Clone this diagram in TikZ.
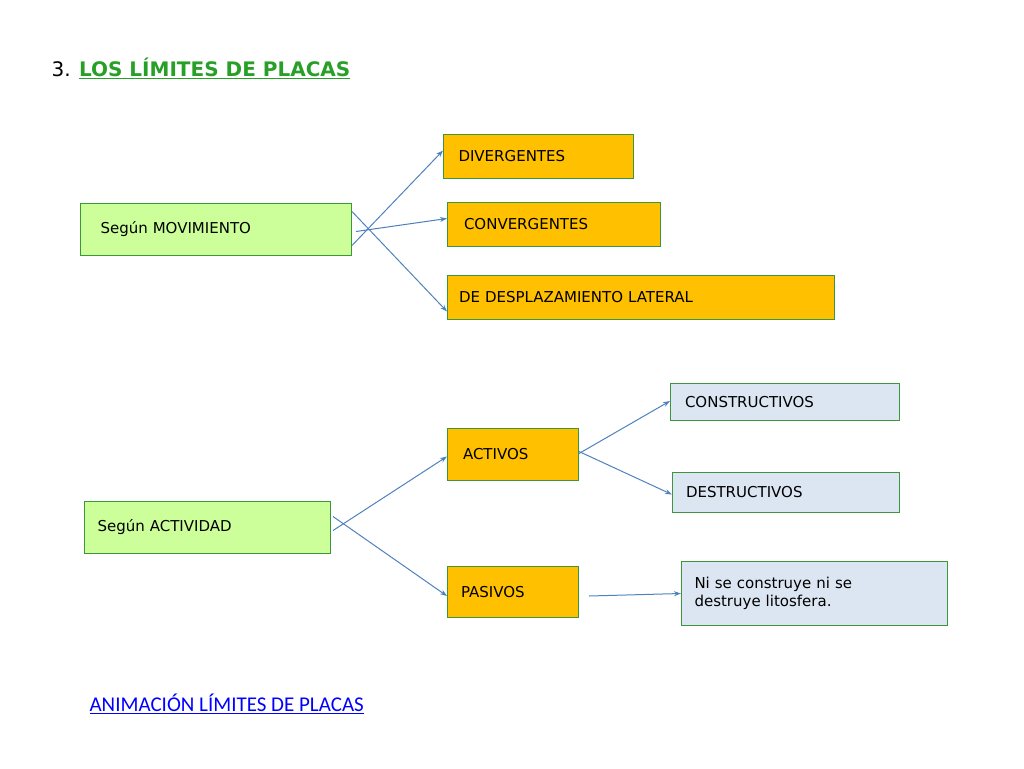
\documentclass[tikz,border=0pt]{standalone}
\usepackage{fontspec}
\setmainfont{DejaVu Sans}
\newfontfamily\linkfont{Carlito}
\usetikzlibrary{positioning,arrows.meta}
\definecolor{cborder}{RGB}{60,150,60}
\definecolor{cgreen}{RGB}{204,255,153}
\definecolor{corange}{RGB}{255,192,0}
\definecolor{cblue}{RGB}{220,230,242}
\definecolor{carrow}{RGB}{79,129,189}
\definecolor{ctitle}{RGB}{40,160,40}
\tikzset{
  box/.style={draw=cborder,line width=1pt,anchor=north west,inner sep=0pt,font=\fontsize{15}{18}\selectfont,align=left},
  crit/.style={box,fill=cgreen},
  kind/.style={box,fill=corange},
  note/.style={box,fill=cblue},
  link/.style={-{Stealth[length=7pt,width=5pt]},draw=carrow,line width=1pt}
}
\begin{document}
\begin{tikzpicture}[x=1pt,y=-1pt]
\useasboundingbox (0,0) rectangle (1024,768);
% title
\node[anchor=west,font=\fontsize{20}{24}\selectfont] (title) at (48,68)
  {3. \textcolor{ctitle}{\bfseries\underline{LOS LÍMITES DE PLACAS}}};
% first group
\node[crit,minimum width=271pt,minimum height=52pt,text width=255pt] (mov) at (80,203) {\hspace*{12pt}Según MOVIMIENTO};
\node[kind,minimum width=190pt,minimum height=44pt,text width=180pt] (div) at (443,134) {\hspace*{10pt}DIVERGENTES};
\node[kind,minimum width=213pt,minimum height=44pt,text width=200pt] (con) at (447,202) {\hspace*{10pt}CONVERGENTES};
\node[kind,minimum width=387pt,minimum height=44pt,text width=380pt] (lat) at (447,275) {\hspace*{8pt}DE DESPLAZAMIENTO LATERAL};
% second group
\node[crit,minimum width=246pt,minimum height=52pt,text width=240pt] (act) at (84,501) {\hspace*{10pt}Según ACTIVIDAD};
\node[kind,minimum width=131pt,minimum height=52pt,text width=120pt] (activos) at (447,428) {\hspace*{10pt}ACTIVOS};
\node[kind,minimum width=131pt,minimum height=51pt,text width=120pt] (pasivos) at (447,566) {\hspace*{8pt}PASIVOS};
\node[note,minimum width=229pt,minimum height=37pt,text width=220pt] (cons) at (670,383) {\hspace*{10pt}CONSTRUCTIVOS};
\node[note,minimum width=227pt,minimum height=40pt,text width=220pt] (des) at (672,472) {\hspace*{10pt}DESTRUCTIVOS};
\node[note,minimum width=266pt,minimum height=64pt,text width=256pt] (ni) at (681,561)
  {\hspace*{8pt}\begin{tabular}{@{}l@{}}Ni se construye ni se\\destruye litosfera.\end{tabular}};
% arrows
\draw[link] ([yshift=-16pt]mov.east) -- ([yshift=6pt]div.west);
\draw[link] ([xshift=4pt,yshift=-2pt]mov.east) -- ([yshift=6pt]con.west);
\draw[link] ([yshift=18pt]mov.east) -- ([yshift=-14pt]lat.west);
\draw[link] ([yshift=1pt]activos.east) -- ([yshift=1pt]cons.west);
\draw[link] ([yshift=3pt]activos.east) -- ([yshift=-2pt,xshift=0pt]des.west);
\draw[link] ([xshift=2pt,yshift=-3pt]act.east) -- ([yshift=-2pt]activos.west);
\draw[link] ([xshift=2pt,yshift=11pt]act.east) -- ([yshift=-4pt]pasivos.west);
\draw[link] ([xshift=10pt,yshift=-4pt]pasivos.east) -- (ni.west);
% link text
\node[anchor=west,font=\linkfont\fontsize{21}{24}\selectfont,text=blue] (anim) at (86,704) {\underline{ANIMACIÓN LÍMITES DE PLACAS}};
\end{tikzpicture}
\end{document}
